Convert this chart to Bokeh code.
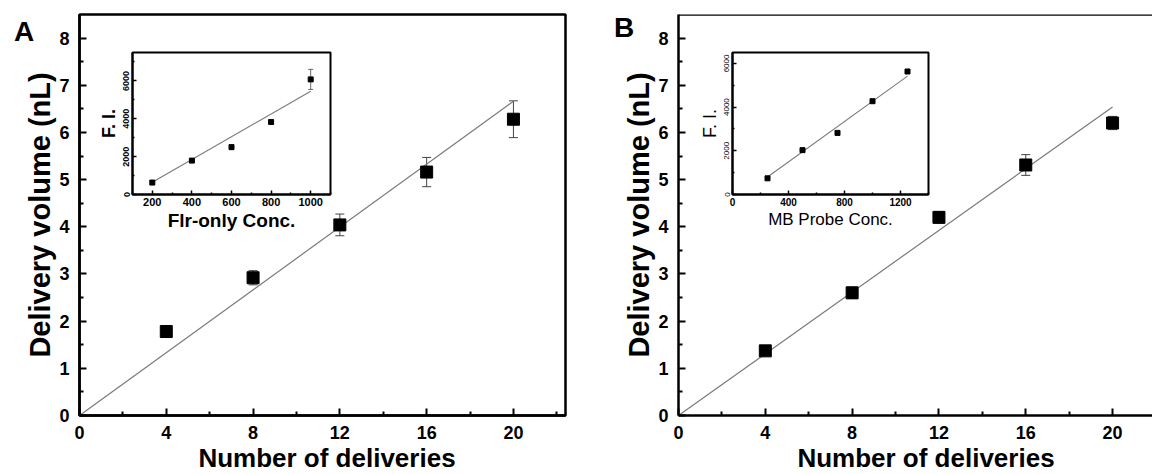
from bokeh.plotting import figure
from bokeh.models import (ColumnDataSource, Whisker, TeeHead, FixedTicker,
                          Span, GridBox, Range1d, Div)
from bokeh.embed import file_html
from bokeh.resources import INLINE

# ---------------- data ----------------
deliveries = [4, 8, 12, 16, 20]
vol_A = [1.78, 2.92, 4.04, 5.16, 6.28]
err_A = [0.04, 0.15, 0.23, 0.31, 0.39]
vol_B = [1.37, 2.60, 4.20, 5.31, 6.20]
err_B = [0.05, 0.12, 0.12, 0.22, 0.14]
fit_slope_A = 0.333
fit_slope_B = 0.327
fit_span_main = [0, 20]

conc_A = [200, 400, 600, 800, 1000]
fi_A = [630, 1790, 2500, 3830, 6080]
fi_err_A = [60, 60, 120, 60, 530]
fit_inset_A = (6.0, -550.0)       # slope, intercept
fit_span_inset_A = [200, 1000]

conc_B = [250, 500, 750, 1000, 1250]
fi_B = [740, 2030, 2820, 4270, 5630]
fi_err_B = [50, 70, 60, 70, 50]
fit_inset_B = (4.62, -355.0)
fit_span_inset_B = [250, 1250]

main_xticks = [0, 4, 8, 12, 16, 20]
main_xminor = [2, 6, 10, 14, 18, 22]
main_yticks = [0, 1, 2, 3, 4, 5, 6, 7, 8]
main_yminor = [0.5, 1.5, 2.5, 3.5, 4.5, 5.5, 6.5, 7.5]

FONT = "Liberation Sans"
GREY = "#7a7a7a"


def style_axis(ax, lw, tick_in, minor_in, label_size, label_style,
               axis_size, axis_style, tick_lw):
    ax.axis_line_width = lw
    ax.axis_line_color = "black"
    ax.major_tick_in = tick_in
    ax.major_tick_out = 0
    ax.minor_tick_in = minor_in
    ax.minor_tick_out = 0
    ax.major_tick_line_width = tick_lw
    ax.minor_tick_line_width = tick_lw
    ax.major_tick_line_color = "black"
    ax.minor_tick_line_color = "black"
    ax.major_label_text_font = FONT
    ax.major_label_text_font_size = label_size
    ax.major_label_text_font_style = label_style
    ax.major_label_text_color = "black"
    ax.axis_label_text_font = FONT
    ax.axis_label_text_font_size = axis_size
    ax.axis_label_text_font_style = axis_style
    ax.axis_label_text_color = "black"


def main_fig(yvals, errs, slope, width, bl, br, bt, xend, full_outline):
    p = figure(width=width, height=474, x_range=Range1d(0, xend), y_range=Range1d(0, 8.5),
               output_backend="svg", toolbar_location=None,
               min_border_left=bl, min_border_right=br, min_border_top=bt, min_border_bottom=59)
    p.grid.visible = False
    p.border_fill_alpha = 0
    if full_outline:
        p.outline_line_color = "black"
        p.outline_line_width = 2.5
    else:
        p.outline_line_color = None
        p.add_layout(Span(location=8.5, dimension="width", line_color="black", line_width=2.5))
    p.xaxis.ticker = FixedTicker(ticks=main_xticks, minor_ticks=main_xminor)
    p.yaxis.ticker = FixedTicker(ticks=main_yticks, minor_ticks=main_yminor)
    p.yaxis.axis_label = "Delivery volume (nL)"
    for ax in (p.xaxis[0], p.yaxis[0]):
        style_axis(ax, 2.5, 7, 4, "18px", "bold", "29px", "bold", 2)
    p.xaxis.major_label_standoff = 10
    p.yaxis.major_label_standoff = 10
    p.yaxis.axis_label_standoff = 0

    fx = fit_span_main
    fy = [slope * v for v in fx]
    p.line(fx, fy, line_color=GREY, line_width=1.2)

    src = ColumnDataSource(dict(x=deliveries, y=yvals,
                                lo=[a - b for a, b in zip(yvals, errs)],
                                hi=[a + b for a, b in zip(yvals, errs)]))
    p.add_layout(Whisker(base="x", lower="lo", upper="hi", source=src,
                         line_color="#444444", line_width=1,
                         upper_head=TeeHead(size=9, line_color="#444444", line_width=1),
                         lower_head=TeeHead(size=9, line_color="#444444", line_width=1)))
    p.scatter("x", "y", source=src, marker="square", size=12, color="black")
    return p


def inset_fig(xs, ys, errs, fit, fit_span, xr, yr, xticks, xminor, yticks, yminor,
              width, bl, br, bt, bb, xlabel, xlab_size, ylab_size, ylab_style,
              axis_size, axis_style):
    p = figure(width=width, height=186, x_range=Range1d(*xr), y_range=Range1d(*yr),
               output_backend="svg", toolbar_location=None,
               min_border_left=bl, min_border_right=br, min_border_top=bt, min_border_bottom=bb)
    p.grid.visible = False
    p.border_fill_alpha = 0
    p.background_fill_color = "white"
    p.outline_line_color = "black"
    p.outline_line_width = 2
    p.xaxis.ticker = FixedTicker(ticks=xticks, minor_ticks=xminor)
    p.yaxis.ticker = FixedTicker(ticks=yticks, minor_ticks=yminor)
    p.xaxis.axis_label = xlabel
    p.yaxis.axis_label = "F. I."
    style_axis(p.xaxis[0], 2, 4, 2, xlab_size, "bold", axis_size, axis_style, 1.5)
    style_axis(p.yaxis[0], 2, 4, 2, ylab_size, ylab_style, "18px", axis_style, 1.5)
    p.yaxis.major_label_orientation = "vertical"
    p.xaxis.major_label_standoff = 3
    p.xaxis.axis_label_standoff = 1
    p.yaxis.major_label_standoff = 3
    p.yaxis.axis_label_standoff = 2

    slope, icpt = fit
    p.line(fit_span, [slope * v + icpt for v in fit_span], line_color=GREY, line_width=1.1)
    src = ColumnDataSource(dict(x=xs, y=ys,
                                lo=[a - b for a, b in zip(ys, errs)],
                                hi=[a + b for a, b in zip(ys, errs)]))
    p.add_layout(Whisker(base="x", lower="lo", upper="hi", source=src,
                         line_color="#444444", line_width=0.8,
                         upper_head=TeeHead(size=5, line_color="#444444", line_width=0.8),
                         lower_head=TeeHead(size=5, line_color="#444444", line_width=0.8)))
    p.scatter("x", "y", source=src, marker="square", size=5, color="black")
    return p


def text_div(txt, w, h, size, ml, mt, line_h, inner_w=None):
    style = (f"font-family:'{FONT}';font-weight:bold;font-size:{size}px;"
             f"line-height:{line_h}px;margin-left:{ml}px;margin-top:{mt}px;"
             "white-space:nowrap;color:black;")
    if inner_w is not None:
        style += f"width:{inner_w}px;text-align:center;"
    return Div(text=f'<div style="{style}">{txt}</div>', width=w, height=h)


figA = main_fig(vol_A, err_A, fit_slope_A, 576, 79, 11, 12, 22.4, True)
figB = main_fig(vol_B, err_B, fit_slope_B, 576, 102, 0, 14, 21.84, False)

insetA = inset_fig(conc_A, fi_A, fi_err_A, fit_inset_A, fit_span_inset_A,
                   (100, 1100), (0, 7500), [200, 400, 600, 800, 1000],
                   [100, 300, 500, 700, 900, 1100], [0, 2000, 4000, 6000],
                   [1000, 3000, 5000, 7000], 248, 44, 6, 5, 35,
                   "Flr-only Conc.", "11px", "9px", "bold", "19px", "bold")
insetB = inset_fig(conc_B, fi_B, fi_err_B, fit_inset_B, fit_span_inset_B,
                   (0, 1400), (0, 6500), [0, 400, 800, 1200],
                   [200, 600, 1000, 1400], [0, 2000, 4000, 6000],
                   [1000, 3000, 5000], 246, 42, 8, 3, 36,
                   "MB Probe Conc.", "10px", "8px", "normal", "17px", "normal")

letterA = text_div("A", 88, 47, 28, 9, 14, 26)
letterB = text_div("B", 114, 47, 28, 33, 10, 26)
xlabA = text_div("Number of deliveries", 576, 31, 26, 79, -3, 26, 486)
xlabB = text_div("Number of deliveries", 576, 31, 26, 114, -3, 26, 462)

grid = GridBox(children=[(figA, 0, 0, 4, 3), (insetA, 1, 1, 1, 1),
                         (figB, 0, 3, 4, 3), (insetB, 1, 4, 1, 1),
                         (letterA, 0, 0, 1, 1), (letterB, 0, 3, 1, 1),
                         (xlabA, 3, 0, 1, 3), (xlabB, 3, 3, 1, 3)],
               rows=["47px", "186px", "210px", "31px"],
               cols=["88px", "248px", "240px", "114px", "246px", "216px"],
               spacing=0)

open("out.html", "w").write(file_html(grid, INLINE))
